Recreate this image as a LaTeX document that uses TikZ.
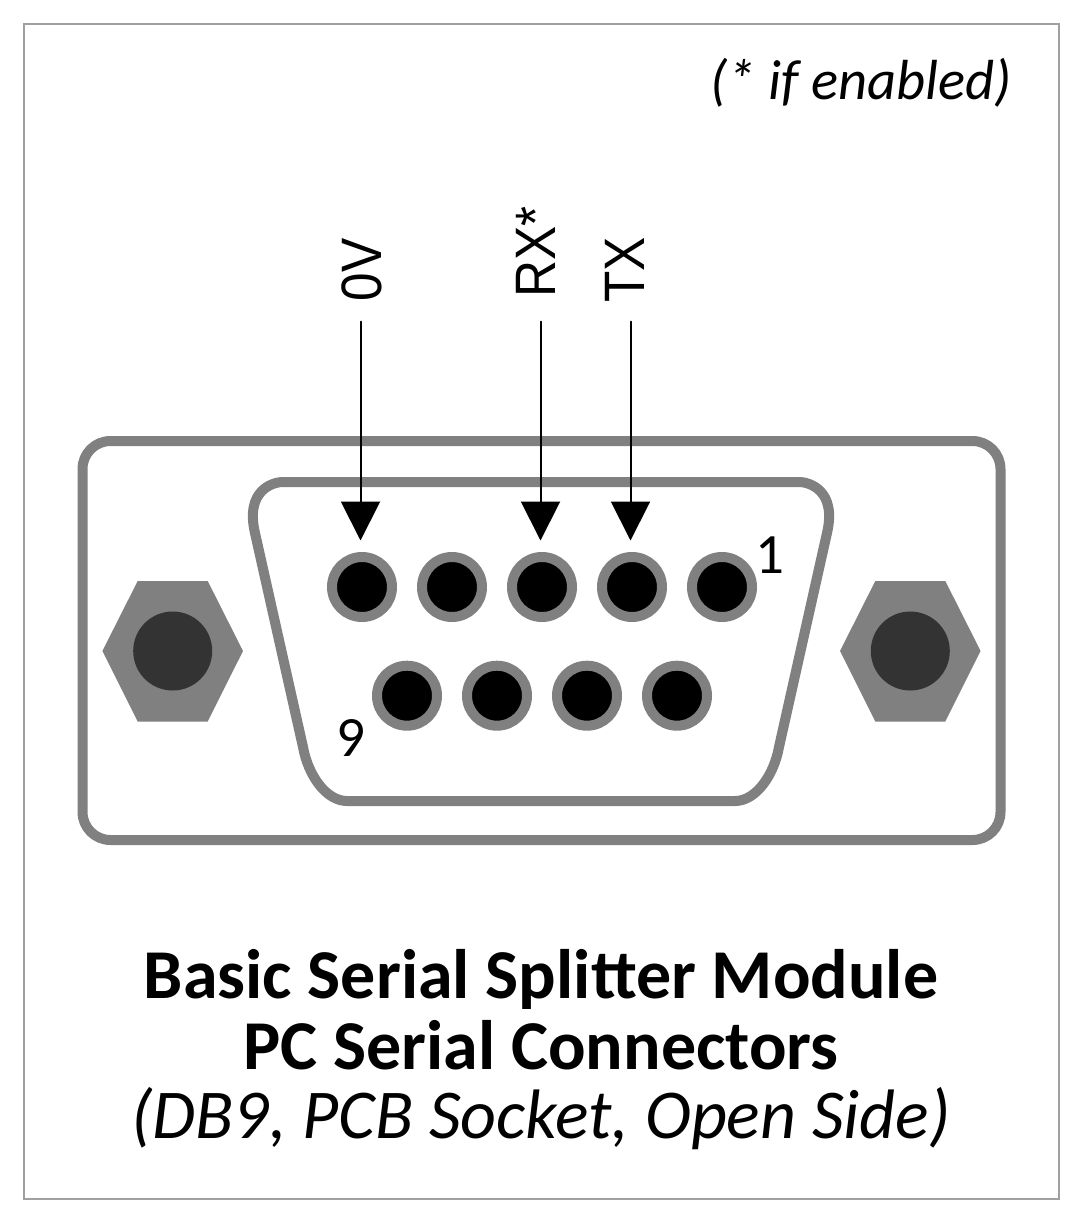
\documentclass[tikz,border=0pt]{standalone}
\usepackage{fontspec}
\setmainfont{Carlito}
\newfontfamily\labelfont[FakeStretch=0.9]{Liberation Sans}
\usepackage{xcolor}
\usepackage{tikz}
\usetikzlibrary{arrows.meta}
\definecolor{shellgray}{HTML}{808080}
\definecolor{framegray}{HTML}{A0A0A0}
\definecolor{boltgray}{HTML}{333333}
\newcommand{\titlefont}{\fontsize{70}{76}\selectfont}
\tikzset{
  pinhole/.style={circle,draw=shellgray,fill=black,line width=10pt,minimum size=60pt,inner sep=0pt,outer sep=0pt},
  boltcore/.style={circle,fill=boltgray,minimum size=79pt,inner sep=0pt,outer sep=0pt},
  sigarrow/.style={line width=2pt,-{Triangle[length=39pt,width=39pt]},shorten >=16.5pt},
  siglabel/.style={rotate=90,anchor=base west,inner sep=0pt,font=\labelfont\fontsize{57}{64}\selectfont},
  pinno/.style={anchor=base,inner sep=0pt,font=\fontsize{57}{64}\selectfont},
  caption/.style={anchor=base,inner sep=0pt}
}
\begin{document}
\begin{tikzpicture}[line cap=round,line join=round,x=1pt,y=-1pt]
\useasboundingbox (0,0) rectangle (1079,1219);
\fill [white] (0,0) rectangle (1079,1219);
\draw [framegray,line width=2pt,line cap=butt,line join=miter] (24,24) rectangle (1059,1199);
\node [anchor=base east,inner sep=0pt] (enabled) at (1012,99) {\fontsize{56.5}{62}\selectfont\itshape (* if enabled)};
\draw [shellgray,line width=10pt,rounded corners=28pt] (82.5,441) rectangle (1000.5,840);
\draw [shellgray,line width=10pt] (283,482) -- (799,482) .. controls (809,482) and (837,490) .. (827,533) -- (779,747) .. controls (774,775) and (756,801) .. (735,801) -- (347,801) .. controls (326,801) and (308,775) .. (303,747) -- (255,533) .. controls (245,490) and (273,482) .. (283,482) -- cycle;
\foreach \bx/\bname in {172.7/boltL,910.3/boltR}{
  \fill [shellgray] (\bx-70.3,651) -- (\bx-35,581) -- (\bx+35,581) -- (\bx+70.3,651) -- (\bx+35,721.5) -- (\bx-35,721.5) -- cycle;
  \node [boltcore] (\bname) at (\bx,651) {};
}
\foreach \px [count=\pn from 1] in {722,632,542,452,362}
  \node [pinhole] (pin\pn) at (\px,587) {};
\foreach \px [count=\pn from 6] in {677,587,497,407}
  \node [pinhole] (pin\pn) at (\px,695.7) {};
\node [pinno] (one) at (770,573) {1};
\node [pinno] (nine) at (351,756.5) {9};
\node [siglabel] (gnd) at (381.7,301.7) {0V};
\node [siglabel] (rx) at (555,298) {RX*};
\node [siglabel] (tx) at (644,303) {TX};
\coordinate (gndtop) at (360.5,321.7);
\coordinate (rxtop) at (540.5,321.7);
\coordinate (txtop) at (630.5,321.7);
\draw [sigarrow] (gndtop) -- (gndtop |- pin5.north);
\draw [sigarrow] (rxtop) -- (rxtop |- pin3.north);
\draw [sigarrow] (txtop) -- (txtop |- pin2.north);
\node [caption] (title) at (541,998) {\titlefont\bfseries Basic Serial Splitter Module};
\node [caption] (subtitle) at (541,1069) {\titlefont\bfseries PC Serial Connectors};
\node [caption] (note) at (541,1138) {\titlefont\itshape (DB9, PCB Socket, Open Side)};
\end{tikzpicture}
\end{document}
